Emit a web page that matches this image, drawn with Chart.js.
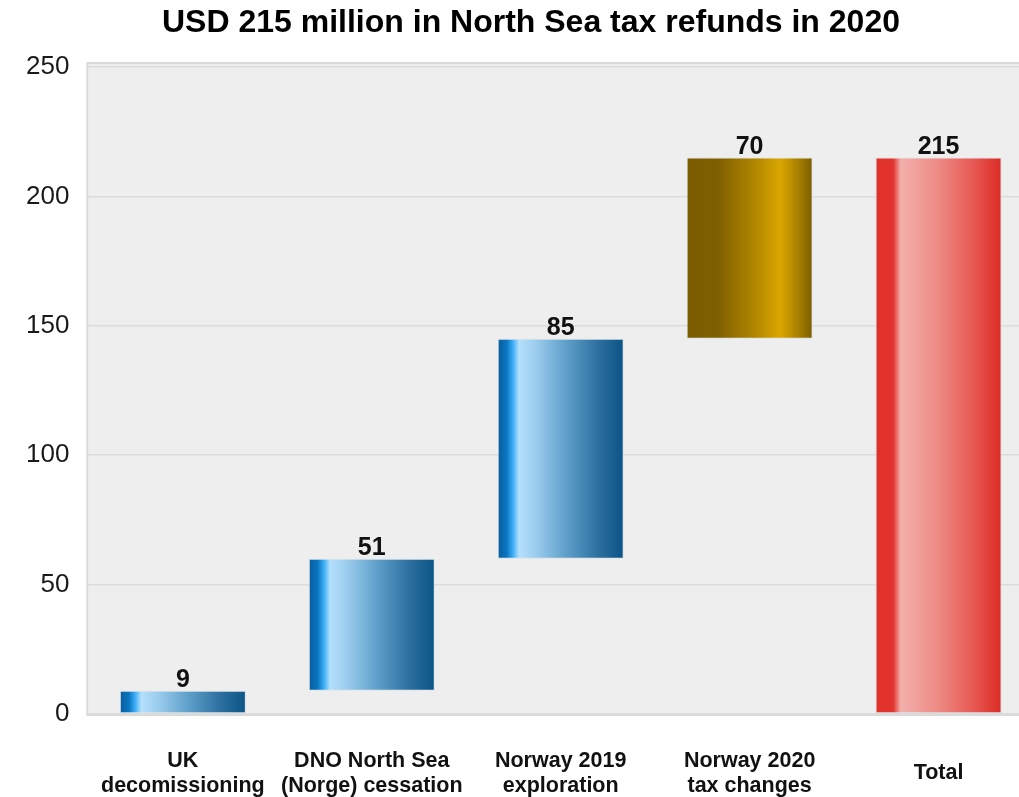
<!DOCTYPE html>
<html>
<head>
<meta charset="utf-8">
<script src="https://cdn.jsdelivr.net/npm/chart.js@4"></script>
<style>
	html, body { margin: 0; padding: 0; background: #fff; overflow: hidden; }
	#wrap { width: 1062px; height: 797px; }
</style>
</head>
<body>
<div id="wrap"><canvas id="refundChart"></canvas></div>
<script>
const chartTitle = "USD 215 million in North Sea tax refunds in 2020";
const categories = [
	["UK", "decomissioning"],
	["DNO North Sea", "(Norge) cessation"],
	["Norway 2019", "exploration"],
	["Norway 2020", "tax changes"],
	"Total",
];
// each step of the waterfall, in USD million
const steps = [9, 51, 85, 70];
const total = 215;
const yTicks = [0, 50, 100, 150, 200, 250];

// floating bars: [start, end]
let running = 0;
const ranges = steps.map((v) => {
	const r = [running, running + v];
	running += v;
	return r;
});
ranges.push([0, total]);
const labels = steps.concat([total]);

const FONT = "'Liberation Sans', Arial, sans-serif";

const BLUE_STOPS = [
	[0, "#0b5d9c"], [0.07, "#0a74c0"], [0.12, "#3aacf6"], [0.17, "#b4e0fb"],
	[0.3, "#9ccdee"], [0.55, "#5d9ec9"], [0.8, "#2c6f9f"], [1, "#0a5486"],
];
const GOLD_STOPS = [
	[0, "#7a5c00"], [0.25, "#7f6000"], [0.5, "#a98000"], [0.74, "#d9a600"],
	[0.8, "#c89800"], [1, "#7c5d00"],
];
const RED_STOPS = [
	[0, "#e0302a"], [0.14, "#e2342e"], [0.2, "#f4b0ac"], [0.5, "#ee8a84"],
	[0.8, "#e6544e"], [1, "#dc2a24"],
];

function barFill(context) {
	const chart = context.chart;
	if (!chart.chartArea) return "#3a8fd0";
	const xs = chart.scales.x;
	const idx = context.dataIndex;
	const half = (xs.width / categories.length) * 0.667 / 2;
	const cx = xs.getPixelForValue(idx);
	const g = chart.ctx.createLinearGradient(cx - half, 0, cx + half, 0);
	let stops = BLUE_STOPS;
	if (idx == 3) stops = GOLD_STOPS;
	if (idx == 4) stops = RED_STOPS;
	stops.forEach(([o, c]) => g.addColorStop(o, c));
	return g;
}

const plotBg = {
	id: "plotBg",
	beforeDraw(chart) {
		const { ctx, chartArea: { left, top, width, height } } = chart;
		ctx.save();
		ctx.fillStyle = "#eeeeee";
		ctx.fillRect(left, top - 3, width, height + 3);
		ctx.strokeStyle = "#d9d9d9";
		ctx.lineWidth = 2;
		ctx.strokeRect(left - 1, top - 4, width + 2, height + 5);
		// title, centred on the visible picture
		ctx.font = "bold 32px " + FONT;
		ctx.fillStyle = "#000";
		ctx.textAlign = "center";
		ctx.textBaseline = "middle";
		ctx.fillText(chartTitle, 531, 23);
		ctx.restore();
	},
};

const valueLabels = {
	id: "valueLabels",
	afterDatasetsDraw(chart) {
		const { ctx, scales: { x, y } } = chart;
		ctx.save();
		ctx.font = "bold 25px " + FONT;
		ctx.fillStyle = "#111";
		ctx.textAlign = "center";
		ctx.textBaseline = "alphabetic";
		labels.forEach((v, i) => {
			ctx.fillText(String(v), x.getPixelForValue(i), y.getPixelForValue(ranges[i][1]) - 4);
		});
		ctx.restore();
	},
};

new Chart(document.getElementById("refundChart"), {
	type: "bar",
	data: {
		labels: categories,
		datasets: [
			{
				data: ranges,
				backgroundColor: barFill,
				borderColor: "rgba(200,215,225,0.6)",
				borderWidth: 1,
				borderSkipped: false,
				categoryPercentage: 1.0,
				barPercentage: 0.667,
			},
		],
	},
	plugins: [plotBg, valueLabels],
	options: {
		responsive: true,
		maintainAspectRatio: false,
		animation: false,
		layout: { padding: { left: 7, right: 29, top: 67, bottom: 0 } },
		plugins: {
			legend: { display: false },
			tooltip: { enabled: false },
			title: { display: false },
		},
		scales: {
			x: {
				grid: { display: false, drawTicks: false },
				border: { display: false },
				afterFit: (axis) => {
					axis.height = 83;
				},
				ticks: {
					color: "#111",
					font: { family: FONT, size: 21.5, weight: "bold", lineHeight: 1.17 },
					padding: 47,
					maxRotation: 0,
					autoSkip: false,
					crossAlign: "center",
				},
			},
			y: {
				min: 0,
				max: 250,
				afterBuildTicks: (axis) => {
					axis.ticks = yTicks.map((v) => ({ value: v }));
				},
				grid: { color: "#dcdcdc", lineWidth: 1.5, drawTicks: false },
				border: { display: false },
				ticks: {
					color: "#1a1a1a",
					font: { family: FONT, size: 26 },
					padding: 19,
				},
			},
		},
	},
});
</script>
</body>
</html>
